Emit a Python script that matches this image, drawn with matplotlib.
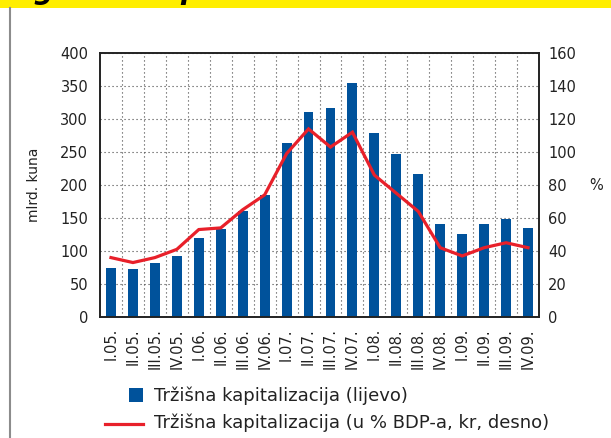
import numpy as np
import matplotlib
matplotlib.use('Agg')
import matplotlib.pyplot as plt
from matplotlib.lines import Line2D
from matplotlib.patches import Rectangle

# quarterly market capitalisation
quarters = ['I.05.', 'II.05.', 'III.05.', 'IV.05.',
            'I.06.', 'II.06.', 'III.06.', 'IV.06.',
            'I.07.', 'II.07.', 'III.07.', 'IV.07.',
            'I.08.', 'II.08.', 'III.08.', 'IV.08.',
            'I.09.', 'II.09.', 'III.09.', 'IV.09.']
cap_bn = [75, 73, 82, 93, 120, 134, 161, 185, 264, 310,
          317, 354, 279, 247, 216, 141, 126, 141, 149, 135]
cap_gdp = [36, 33, 36, 41, 53, 54, 65, 74, 99, 114,
           103, 112, 86, 75, 64, 42, 37, 42, 45, 42]

bar_label = 'Tržišna kapitalizacija (lijevo)'
line_label = 'Tržišna kapitalizacija (u % BDP-a, kr, desno)'

BLUE = '#00529B'
RED = '#E8202A'
W, H = 611, 438

plt.rcParams['font.family'] = ['DejaVu Sans']
fig = plt.figure(figsize=(W / 100, H / 100), dpi=100)

# header strip and left rule
fig.add_artist(Rectangle((0, 1 - 8 / H), 1, 8 / H, transform=fig.transFigure,
                         color='#FFEE00', lw=0))
fig.add_artist(Line2D([9.5 / W, 9.5 / W], [0, 1 - 8 / H], transform=fig.transFigure,
                      color='#8c8c8c', lw=1.5))
fig.text(33 / W, 1 + 1 / H, 'g', fontsize=20, fontweight='bold', fontstyle='italic',
         va='baseline')
fig.text(180 / W, 1 + 1 / H, 'p', fontsize=20, fontweight='bold', fontstyle='italic',
         va='baseline')

ax = fig.add_axes([100 / W, 1 - 317 / H, 439 / W, 264 / H])
x = np.arange(len(quarters))
ax.bar(x, cap_bn, width=0.45, color=BLUE, zorder=2)
ax.set_xlim(-0.5, len(quarters) - 0.5)
ax.set_ylim(0, 400)
ax.set_yticks(np.arange(0, 401, 50))
ax.set_xticks(x)
ax.set_xticklabels(quarters, rotation=90)
ax.set_xticks(x[:-1] + 0.5, minor=True)

dots = (0, (1, 2.6))
ax.grid(which='minor', axis='x', color='#444444', lw=0.8, ls=dots, zorder=0)
ax.grid(which='major', axis='y', color='#444444', lw=0.8, ls=dots, zorder=0)
ax.set_axisbelow(True)
ax.tick_params(axis='both', which='both', length=0, labelsize=10.5, colors='#222222')
ax.tick_params(axis='x', pad=8)
ax.tick_params(axis='y', pad=8.5)

ax2 = ax.twinx()
ax2.plot(x, cap_gdp, color=RED, lw=2.3, solid_joinstyle='miter')
ax2.set_ylim(0, 160)
ax2.set_yticks(np.arange(0, 161, 20))
ax2.tick_params(axis='y', length=0, labelsize=10.5, colors='#222222', pad=6.5)

for a in (ax, ax2):
    for s in a.spines.values():
        s.set_linewidth(1.2)
        s.set_color('#222222')

fig.text(34 / W, 1 - 185 / H, 'mlrd. kuna', rotation=90, ha='center', va='center',
         fontsize=10, color='#222222')
fig.text(596 / W, 1 - 185 / H, '%', ha='center', va='center', fontsize=10.5,
         color='#222222')

# legend below the plot
fig.add_artist(Rectangle((129 / W, 1 - 402 / H), 14 / W, 14 / H, transform=fig.transFigure,
                         color=BLUE, lw=0))
fig.add_artist(Line2D([105 / W, 143 / W], [1 - 424 / H] * 2, transform=fig.transFigure,
                      color=RED, lw=2.3))
fig.text(154 / W, 1 - 396 / H, bar_label, va='center', fontsize=13, color='#222222')
fig.text(154 / W, 1 - 423 / H, line_label, va='center', fontsize=13, color='#222222')

fig.savefig('out.png', dpi=100)
